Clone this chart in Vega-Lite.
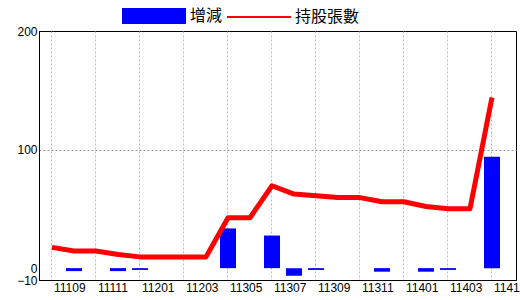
{
  "$schema": "https://vega.github.io/schema/vega-lite/v6.json",
  "width": 477,
  "height": 249,
  "autosize": {"type": "none"},
  "padding": {"left": 39, "top": 31, "right": 4, "bottom": 20},
  "background": "white",
  "config": {
    "view": {"stroke": "black", "strokeWidth": 1},
    "font": "Liberation Sans"
  },
  "data": {
    "values": [
      {"period": "11109", "change": 0, "holdings": 17.5},
      {"period": "11110", "change": -2.5, "holdings": 14.5},
      {"period": "11111", "change": 0, "holdings": 14.5},
      {"period": "11112", "change": -2.5, "holdings": 11.5},
      {"period": "11201", "change": -1.5, "holdings": 9.5},
      {"period": "11202", "change": 0, "holdings": 9.5},
      {"period": "11203", "change": 0, "holdings": 9.5},
      {"period": "11304", "change": 0, "holdings": 9.5},
      {"period": "11305", "change": 33.5, "holdings": 42.5},
      {"period": "11306", "change": 0, "holdings": 42.5},
      {"period": "11307", "change": 27.5, "holdings": 69.5},
      {"period": "11308", "change": -6.5, "holdings": 62.5},
      {"period": "11309", "change": -1.5, "holdings": 61},
      {"period": "11310", "change": 0, "holdings": 59.5},
      {"period": "11311", "change": 0, "holdings": 59.5},
      {"period": "11312", "change": -3, "holdings": 56},
      {"period": "11401", "change": 0, "holdings": 56},
      {"period": "11402", "change": -3, "holdings": 52},
      {"period": "11403", "change": -1.5, "holdings": 50},
      {"period": "11410", "change": 0, "holdings": 50},
      {"period": "11411", "change": 94, "holdings": 144}
    ]
  },
  "encoding": {
    "x": {
      "field": "period",
      "type": "ordinal",
      "sort": null,
      "scale": {"type": "band", "paddingInner": 0, "paddingOuter": 0.341, "align": 0.133},
      "axis": {
        "title": null,
        "values": ["11109", "11111", "11201", "11203", "11305", "11307", "11309", "11311", "11401", "11403", "11411"],
        "labelAngle": 0,
        "labelAlign": "left",
        "labelBaseline": "top",
        "labelOffset": 2,
        "labelPadding": 2,
        "labelFontSize": 12,
        "labelColor": "black",
        "labelOverlap": false,
        "labelBound": false,
        "labelFlush": false,
        "ticks": false,
        "domainColor": "black",
        "grid": true,
        "gridColor": "#9fbfd3",
        "gridDash": [2, 2],
        "gridWidth": 1,
        "bandPosition": 0.5
      }
    }
  },
  "layer": [
    {
      "mark": {"type": "bar", "width": 16},
      "encoding": {
        "y": {
          "field": "change",
          "type": "quantitative",
          "scale": {"domain": [-10, 200], "nice": false, "zero": false},
          "axis": {
            "title": null,
            "values": [-10, 0, 100, 200],
            "labelFontSize": 12,
            "labelColor": "black",
            "labelPadding": 2,
            "labelOverlap": false,
            "labelFlush": false,
            "labelBound": false,
            "ticks": false,
            "domainColor": "black",
            "grid": true,
            "gridColor": "#999999",
            "gridDash": [2, 2],
            "gridOpacity": {"condition": {"test": "datum.value === 100", "value": 1}, "value": 0}
          }
        },
        "fill": {
          "datum": "增減",
          "type": "nominal",
          "scale": {"range": ["#0000ff"]},
          "legend": {
            "title": null,
            "orient": "none",
            "legendX": 83,
            "legendY": -47,
            "symbolType": "M-1,-0.25H1V0.25H-1Z",
            "symbolSize": 4096,
            "symbolStrokeWidth": 0,
            "labelFont": "Noto Sans CJK TC",
            "labelFontSize": 16,
            "labelColor": "black",
            "labelOffset": 4,
            "padding": 0
          }
        }
      }
    },
    {
      "mark": {"type": "line", "strokeWidth": 5, "strokeJoin": "round"},
      "encoding": {
        "y": {"field": "holdings", "type": "quantitative"},
        "stroke": {
          "datum": "持股張數",
          "type": "nominal",
          "scale": {"range": ["#ff0000"]},
          "legend": {
            "title": null,
            "orient": "none",
            "legendX": 187,
            "legendY": -47,
            "symbolType": "M-1,0H1",
            "symbolSize": 4096,
            "symbolStrokeWidth": 2,
            "labelFont": "Noto Sans CJK TC",
            "labelFontSize": 16,
            "labelColor": "black",
            "labelOffset": 3,
            "padding": 0
          }
        }
      }
    },
    {
      "mark": {"type": "rule", "color": "black", "strokeWidth": 1.5},
      "encoding": {"y": {"datum": 0}}
    }
  ],
  "resolve": {"scale": {"y": "shared"}}
}
